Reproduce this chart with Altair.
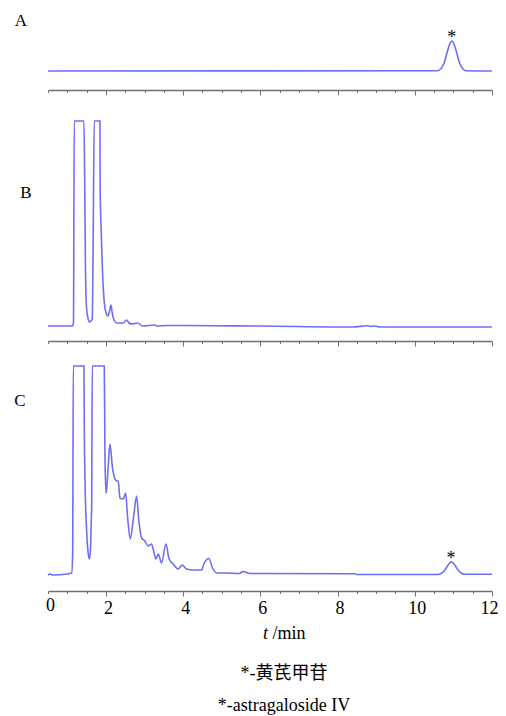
import altair as alt
import pandas as pd

# ---------------- data ----------------
# x axis tick positions (minutes); the first tick is labelled "0" in the original
tick_values = [0.5, 1.0, 1.5, 2.0, 2.5, 3.0, 3.5, 4.0, 4.5, 5.0, 5.5, 6.0,
               6.5, 7.0, 7.5, 8.0, 8.5, 9.0, 9.5, 10.0, 10.5, 11.0, 11.5, 12.0]
major_ticks = [2, 4, 6, 8, 10, 12]

# Panel A: reference standard
a_time = [0.50, 10.60, 10.68, 10.76, 10.84, 10.90, 10.96, 11.02, 11.08, 11.16,
          11.24, 11.32, 12.00]
a_signal = [0, 0.3, 2.5, 8, 19, 26.5, 30, 26.5, 19, 8, 2.5, 0.3, 0]

# Panel B: negative sample
b_time = [0.50, 1.00, 1.14, 1.16, 1.18, 1.43, 1.45, 1.47, 1.50, 1.54, 1.57,
          1.61, 1.646, 1.672, 1.698, 1.845, 1.85, 1.875, 1.90, 1.935, 1.99,
          2.05, 2.10, 2.13, 2.16, 2.21, 2.285, 2.45, 2.536, 2.60, 2.666, 2.82,
          2.95, 3.27, 3.32, 3.58, 3.94, 4.74, 6.00, 8.39, 8.77, 8.86, 8.96,
          9.10, 12.00]
b_signal = [1, 1, 1, 5, 206, 206, 150, 60, 18, 8, 5,
            6, 8, 96, 206, 206, 140, 100, 68, 37, 16,
            11, 17, 22, 15, 7, 4, 4, 7, 4, 3, 4,
            1, 2, 1, 1.5, 1.5, 1.3, 1, 0, 1.3, 0.5, 1,
            0, 0]

# Panel C: test sample
c_time = [0.50, 0.55, 0.62, 1.00, 1.113, 1.139, 1.155, 1.431, 1.44, 1.46,
          1.50, 1.54, 1.57, 1.60, 1.625, 1.631, 1.646, 1.957, 1.975, 2.00,
          2.017, 2.06, 2.104, 2.174, 2.277, 2.32, 2.363, 2.448, 2.51, 2.565,
          2.63, 2.72, 2.795, 2.854, 2.924, 3.01, 3.095, 3.18, 3.224, 3.294,
          3.354, 3.442, 3.553, 3.638, 3.742, 3.871, 3.975, 4.089, 4.26, 4.477,
          4.536, 4.666, 4.761, 4.865, 5.12, 5.45, 5.553, 5.73, 8.44, 8.50,
          10.60, 10.68, 10.76, 10.84, 10.90, 10.94, 11.00, 11.06, 11.14, 11.22,
          11.30, 12.00]
c_signal = [0, 1, 0, 1, 2, 22, 209, 209, 150, 92,
            45, 22, 16, 25, 60, 66, 209, 209, 122, 82,
            86, 109, 131, 106, 94, 94, 77, 76, 82, 56,
            36, 59, 79, 54, 37, 34, 29, 31, 26, 16,
            21, 12, 31, 16, 11, 6, 10, 6, 5, 5,
            11, 16.5, 7, 2, 2, 1.5, 3.5, 1.5, 1.3, 0.5,
            0.5, 1.5, 4, 8.5, 12, 13.3, 12, 8.5, 4, 1.5,
            0.7, 0.7]

# asterisk marks (astragaloside IV peak)
star_a = {"t": [10.96], "s": [30], "m": ["*"]}
star_c = {"t": [10.94], "s": [13.3], "m": ["*"]}

panel_labels = ["A", "B", "C"]
x_title_italic = "t"
x_title_rest = "/min"
note_cn = "*-黄芪甲苷"
note_en = "*-astragaloside IV"

# ---------------- styling ----------------
LINE = "#6e6ef4"
SERIF = "Liberation Serif"
W = 444

MAJOR_TEST = "indexof(" + str(major_ticks) + ", datum.value) >= 0"


def x_axis(show_labels):
    return alt.Axis(
        values=tick_values,
        title=None,
        grid=False,
        domainColor="#707070",
        domainWidth=1.5,
        tickColor="#707070",
        tickWidth=1,
        tickSize={"condition": {"test": MAJOR_TEST, "value": 5}, "value": 2.5},
        labels=show_labels,
        labelExpr="datum.value === 0.5 ? '0' : (" + MAJOR_TEST + " ? format(datum.value, 'd') : '')",
        labelOffset={"condition": {"test": "datum.value === 12", "value": -3}, "value": 2},
        labelOverlap=False,
        labelBound=False,
        labelFlush=False,
        labelFont=SERIF,
        labelFontSize=18,
        labelColor="#000000",
        labelPadding=3,
    )


def panel(times, signals, ymin, ymax, h, label, lx, ly, star=None, show_labels=False, extra=None):
    df = pd.DataFrame({"t": times, "s": signals})
    x = alt.X("t:Q", scale=alt.Scale(domain=[0.5, 12], nice=False, zero=False),
              axis=x_axis(show_labels))
    y = alt.Y("s:Q", scale=alt.Scale(domain=[ymin, ymax], nice=False, zero=False),
              axis=None)
    line = alt.Chart(df).mark_line(color=LINE, strokeWidth=1.6,
                                   interpolate="monotone").encode(x=x, y=y)
    lab = alt.Chart(pd.DataFrame({"k": [label]})).mark_text(
        font=SERIF, fontSize=17, align="center", baseline="middle", color="#000000"
    ).encode(text="k:N", x=alt.value(lx), y=alt.value(ly))
    layers = [line, lab]
    if star is not None:
        sdf = pd.DataFrame(star)
        layers.append(alt.Chart(sdf).mark_text(
            font=SERIF, fontSize=18, align="center", baseline="alphabetic", dy=2,
            color="#000000"
        ).encode(x=alt.X("t:Q", axis=x_axis(show_labels)), y="s:Q", text="m:N"))
    if extra:
        layers.extend(extra)
    return alt.layer(*layers).properties(width=W, height=h)


def txt(s, x, y, size=18, style="normal", align="center"):
    return alt.Chart(pd.DataFrame({"k": [s]})).mark_text(
        font=SERIF + ", Noto Sans CJK SC", fontSize=size, fontStyle=style,
        align=align, baseline="middle", color="#000000"
    ).encode(text="k:N", x=alt.value(x), y=alt.value(y))


extra_c = [
    txt(x_title_italic, 217.5, 273, style="italic"),
    txt(x_title_rest, 224.5, 273, align="left"),
    txt(note_cn, 236, 313),
    txt(note_en, 236, 345),
]

pA = panel(a_time, a_signal, -19, 58, 77, panel_labels[0], -27, 8, star=star_a)
pB = panel(b_time, b_signal, -14, 217, 231, panel_labels[1], -22, 83)
pC = panel(c_time, c_signal, -16, 214, 230, panel_labels[2], -28, 40,
           star=star_c, show_labels=True, extra=extra_c)

chart = alt.vconcat(pA, pB, pC, spacing=20, bounds="flush").properties(
    padding={"left": 6, "top": 4, "right": 0, "bottom": 5}
).configure_view(strokeWidth=0).configure_axisX(labelOverlap=False, labelFont=SERIF)

chart.save("out.html", embed_options={"renderer": "svg", "actions": False})
